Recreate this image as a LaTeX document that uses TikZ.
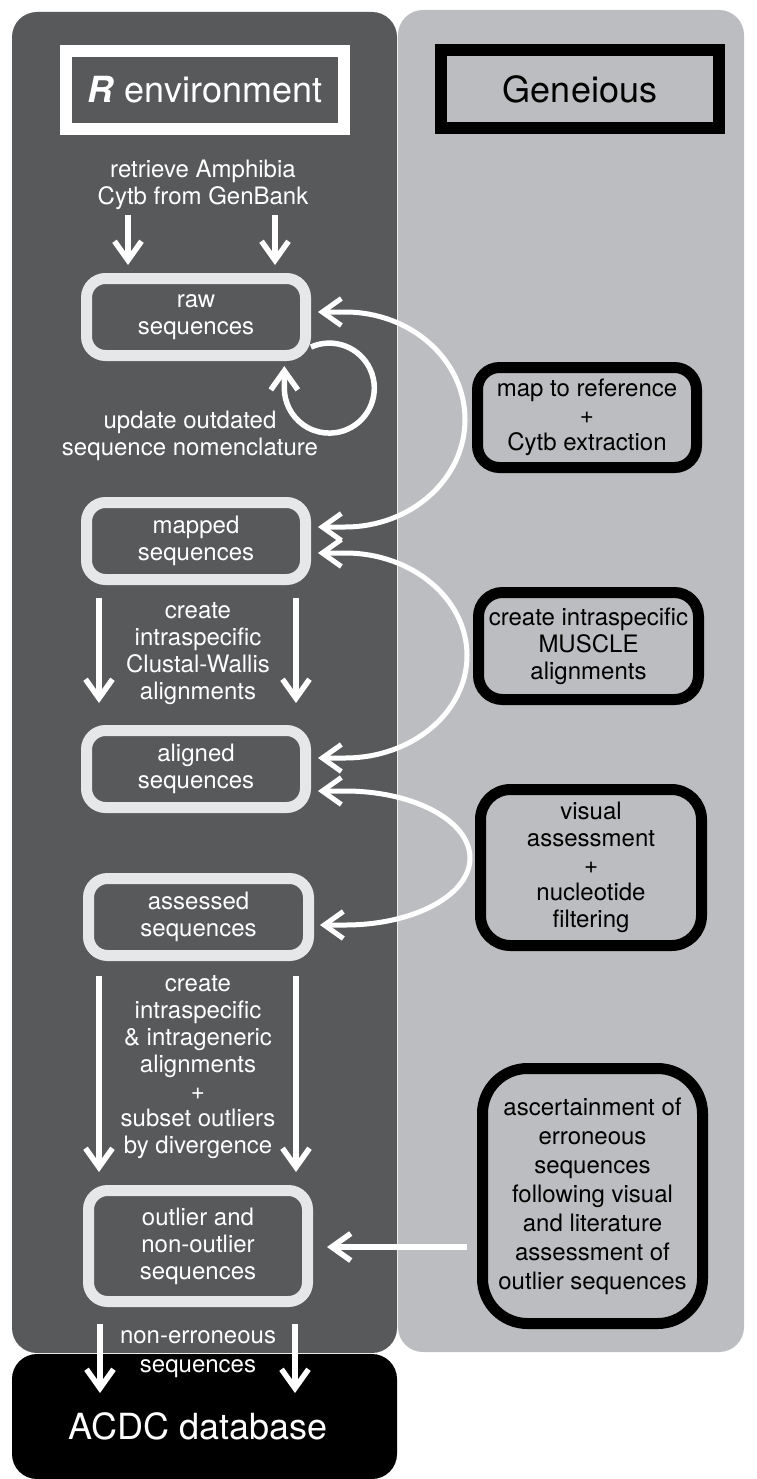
\documentclass[tikz,border=0pt]{standalone}
\usepackage{fontspec}
\setmainfont{TeX Gyre Heros}
\usetikzlibrary{arrows.meta,calc}
\definecolor{darkpanel}{HTML}{58595B}
\definecolor{lightpanel}{HTML}{BCBDC0}
\definecolor{boxborder}{HTML}{E6E7E8}
\begin{document}
\begin{tikzpicture}[x=1pt,y=-1pt,
  barb/.tip={Straight Barb[length=19pt,width=27pt]},
  warr/.style={draw=white, line width=5.5pt, -barb},
  wboth/.style={draw=white, line width=5pt, barb-barb},
  lbox/.style={draw=boxborder, line width=11pt, rounded corners=19pt, text=white, align=center, inner sep=0pt, font=\fontsize{24}{27}\selectfont},
  rbox/.style={draw=black, line width=11pt, text=black, align=center, inner sep=0pt, font=\fontsize{24}{27}\selectfont},
  wtext/.style={text=white, align=center, inner sep=0pt, font=\fontsize{24}{27}\selectfont},
  header/.style={line width=12pt, minimum width=278pt, minimum height=78pt, inner sep=0pt, font=\fontsize{36}{40}\selectfont},
]
\useasboundingbox (0,0) rectangle (756,1479);
% panels
\fill[darkpanel, rounded corners=25pt] (12,12) rectangle (397,1353);
\fill[lightpanel, rounded corners=25pt] (398,10) rectangle (744,1352);
\fill[black, rounded corners=25pt] (12,1354) rectangle (397,1479);

% headers
\node[header, draw=white, text=white] (renv) at (205,90) {\textbf{\textit{R}} environment};
\node[header, draw=black, text=black] (gen) at (580,89.5) {Geneious};

% left boxes
\node[lbox, minimum width=219pt, minimum height=77pt] (raw) at (196,317) {raw\\sequences};
\node[lbox, minimum width=219pt, minimum height=77pt] (mapped) at (196,541) {mapped\\sequences};
\node[lbox, minimum width=219pt, minimum height=77pt] (aligned) at (196,769) {aligned\\sequences};
\node[lbox, minimum width=220pt, minimum height=77pt] (assessed) at (198.5,917) {assessed\\sequences};
\node[lbox, minimum width=219pt, minimum height=111pt] (outlier) at (198,1246) {outlier and\\non-outlier\\sequences};

% right boxes
\node[rbox, rounded corners=22pt, minimum width=219pt, minimum height=100pt] (map) at (587,417.5) {map to reference\\+\\Cytb extraction};
\node[rbox, rounded corners=24pt, minimum width=220pt, minimum height=107pt] (muscle) at (588.5,646) {create intraspecific\\MUSCLE\\alignments};
\node[rbox, rounded corners=30pt, minimum width=221pt, minimum height=156pt] (visual) at (591,867.5) {visual\\assessment\\+\\nucleotide\\filtering};
\node[rbox, rounded corners=45pt, minimum width=220pt, minimum height=255pt, font=\fontsize{24}{29}\selectfont] (ascert) at (592.5,1196) {ascertainment of\\erroneous\\sequences\\following visual\\and literature\\assessment of\\outlier sequences};

% free texts
\node[wtext] (retr) at (203,185) {retrieve Amphibia\\Cytb from GenBank};
\node[wtext] (upd) at (190,435.5) {update outdated\\sequence nomenclature};
\node[wtext] (cw) at (198,653.5) {create\\intraspecific\\Clustal-Wallis\\alignments};
\node[wtext] (cig) at (198,1067) {create\\intraspecific\\\& intrageneric\\alignments\\+\\subset outliers\\by divergence};
\node[wtext, font=\fontsize{24}{29}\selectfont] (nonerr) at (198,1354.5) {non-erroneous\\sequences};
\node[text=white, inner sep=0pt, font=\fontsize{36}{40}\selectfont] (acdc) at (198,1426) {ACDC database};

% vertical arrows
\draw[warr] ($(raw.north)+(-68,-58)$) -- ($(raw.north)+(-68,-8)$);
\draw[warr] ($(raw.north)+(79,-58)$) -- ($(raw.north)+(79,-8)$);
\draw[warr] ($(mapped.south)+(-97,13)$) -- ($(aligned.north)+(-97,-22)$);
\draw[warr] ($(mapped.south)+(100,13)$) -- ($(aligned.north)+(100,-22)$);
\draw[warr] ($(assessed.south)+(-99.5,15)$) -- ($(outlier.north)+(-99,-13)$);
\draw[warr] ($(assessed.south)+(97.5,15)$) -- ($(outlier.north)+(98,-13)$);
\draw[warr] ($(outlier.south)+(-98,17)$) -- ($(outlier.south)+(-98,86)$);
\draw[warr] ($(outlier.south)+(97,17)$) -- ($(outlier.south)+(97,86)$);

% self loop
\draw[warr] ($(raw.south east)+(0,-14)$) arc[start angle=-114, end angle=180, radius=45] -- ++(0,-22);

% big arcs
\draw[wboth] ($(raw.east)+(7,-5)$) -- ++(27,0) arc[start angle=-90, end angle=90, x radius=120, y radius=107.5] -- ($(mapped.east)+(7,-14)$);
\draw[wboth] ($(mapped.east)+(7,12)$) -- ++(27,0) arc[start angle=-90, end angle=90, x radius=122, y radius=102.5] -- ($(aligned.east)+(7,-11)$);
\draw[wboth] ($(aligned.east)+(7,22)$) -- ++(27,0) arc[start angle=-90, end angle=90, x radius=125, y radius=67] -- ($(assessed.east)+(6,8)$);

% horizontal arrow
\draw[warr] ($(ascert.west)+(-10,51)$) -- ($(outlier.east)+(14,1)$);
\end{tikzpicture}
\end{document}
